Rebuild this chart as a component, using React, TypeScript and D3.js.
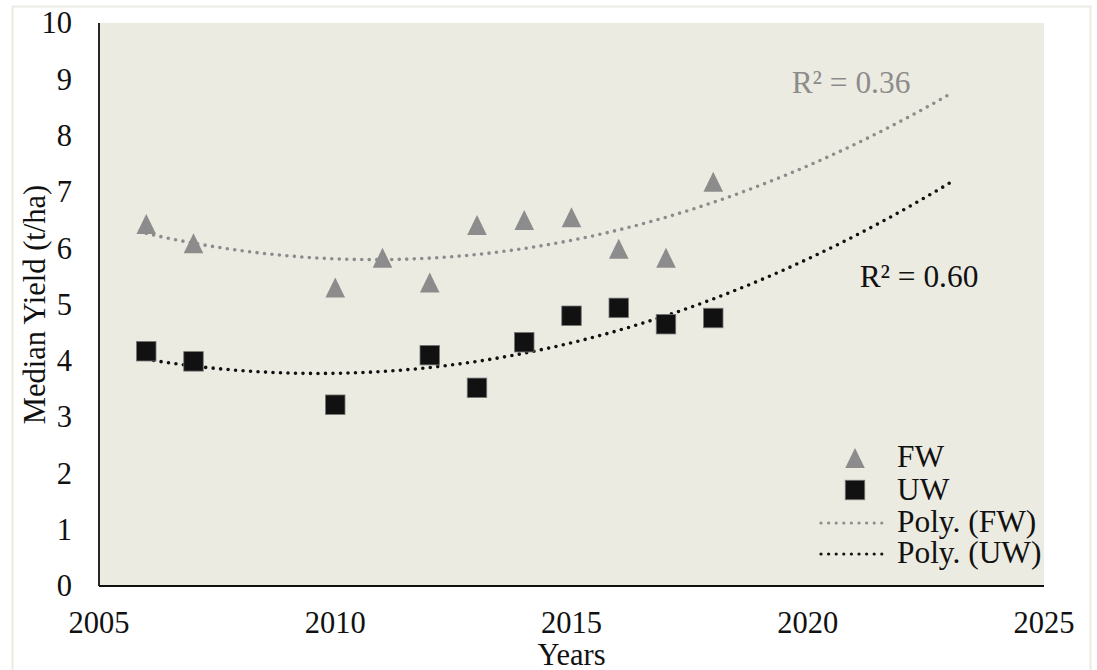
import React from "react";
import * as d3 from "d3";

// Median yield by year for the two water regimes
const fwYears = [2006, 2007, 2010, 2011, 2012, 2013, 2014, 2015, 2016, 2017, 2018];
const fwValues = [6.43, 6.09, 5.3, 5.83, 5.39, 6.41, 6.5, 6.55, 5.99, 5.83, 7.18];
const uwYears = [2006, 2007, 2010, 2012, 2013, 2014, 2015, 2016, 2017, 2018];
const uwValues = [4.17, 3.99, 3.22, 4.1, 3.52, 4.33, 4.8, 4.94, 4.65, 4.76];

const xTicks = [2005, 2010, 2015, 2020, 2025];
const yTicks = [0, 1, 2, 3, 4, 5, 6, 7, 8, 9, 10];
const trendStart = 2006;
const trendEnd = 2023;
const fwR2Label = "R² = 0.36";
const uwR2Label = "R² = 0.60";
const legendLabels = ["FW", "UW", "Poly. (FW)", "Poly. (UW)"];

const W = 1097;
const H = 670;
const plot = { left: 99, right: 1044, top: 23, bottom: 586 };
const FONT = "'Liberation Serif', 'Times New Roman', serif";
const FW_COLOR = "#8c8c8c";
const UW_COLOR = "#111111";
const TICK_FS = 30.5;
const LABEL_FS = 31.4;

// Least-squares second-order polynomial fit
function quadFit(xs: number[], ys: number[]) {
  const x0 = d3.mean(xs) as number;
  const u = xs.map((x) => x - x0);
  const n = u.length;
  let s1 = 0, s2 = 0, s3 = 0, s4 = 0, t0 = 0, t1 = 0, t2 = 0;
  u.forEach((v, i) => {
    const y = ys[i];
    s1 += v; s2 += v * v; s3 += v * v * v; s4 += v * v * v * v;
    t0 += y; t1 += v * y; t2 += v * v * y;
  });
  const M = [
    [n, s1, s2, t0],
    [s1, s2, s3, t1],
    [s2, s3, s4, t2],
  ];
  for (let c = 0; c < 3; c++) {
    for (let r = c + 1; r < 3; r++) {
      const f = M[r][c] / M[c][c];
      for (let k = c; k < 4; k++) M[r][k] -= f * M[c][k];
    }
  }
  const coef = [0, 0, 0];
  for (let r = 2; r >= 0; r--) {
    let s = M[r][3];
    for (let k = r + 1; k < 3; k++) s -= M[r][k] * coef[k];
    coef[r] = s / M[r][r];
  }
  return (x: number) => {
    const v = x - x0;
    return coef[0] + coef[1] * v + coef[2] * v * v;
  };
}

// Isosceles triangle marker, as wide as it is tall, centred on its box
const boxTriangle = {
  draw(ctx: any, size: number) {
    const h = Math.sqrt(size);
    ctx.moveTo(0, -h / 2);
    ctx.lineTo(h * 0.49, h / 2);
    ctx.lineTo(-h * 0.49, h / 2);
    ctx.closePath();
  },
};

export default function App() {
  const x = d3.scaleLinear().domain([2005, 2025]).range([plot.left, plot.right]);
  const y = d3.scaleLinear().domain([0, 10]).range([plot.bottom, plot.top]);

  const fwFit = quadFit(fwYears, fwValues);
  const uwFit = quadFit(uwYears, uwValues);
  const samples = d3.range(trendStart, trendEnd + 0.001, 0.1);
  const line = d3.line<number>().x((d) => x(d));
  const fwPath = line.y((d) => y(fwFit(d)))(samples) as string;
  const uwPath = line.y((d) => y(uwFit(d)))(samples) as string;

  const tri = d3.symbol().type(boxTriangle as any).size(400)() as string;
  const sq = 19.5;

  const legX = 855;
  const legTextX = 897;
  const legMarks = [458, 490, 523, 554];
  const legBase = [467, 500, 532, 563];

  return (
    <svg
      width={W}
      height={H}
      style={{ position: "absolute", left: 0, top: 0, background: "#fff" }}
      fontFamily={FONT}
    >
      <rect x={12.5} y={6.5} width={1078} height={700} fill="#fff" stroke="#ecebe2" strokeWidth={2} />
      <rect
        x={plot.left}
        y={plot.top}
        width={plot.right - plot.left}
        height={plot.bottom - plot.top}
        fill="#ecebe1"
      />

      {/* fitted trends */}
      <path d={fwPath} fill="none" stroke={FW_COLOR} strokeWidth={3.6} strokeLinecap="round" strokeDasharray="0 7.5" />
      <path d={uwPath} fill="none" stroke={UW_COLOR} strokeWidth={3.6} strokeLinecap="round" strokeDasharray="0 7.5" />

      {/* axes */}
      <line x1={plot.left} x2={plot.left} y1={plot.top} y2={plot.bottom} stroke="#111" strokeWidth={1.8} />
      <line x1={plot.left} x2={plot.right} y1={plot.bottom} y2={plot.bottom} stroke="#111" strokeWidth={1.8} />

      {yTicks.map((t) => (
        <text key={t} x={72} y={y(t)} dy="0.34em" textAnchor="end" fontSize={TICK_FS} fill="#111">
          {t}
        </text>
      ))}
      {xTicks.map((t) => (
        <text key={t} x={x(t)} y={633} textAnchor="middle" fontSize={TICK_FS} fill="#111">
          {t}
        </text>
      ))}
      <text x={(plot.left + plot.right) / 2} y={665} textAnchor="middle" fontSize={TICK_FS} fill="#111">
        Years
      </text>
      <text
        transform={`translate(45,${(plot.top + plot.bottom) / 2}) rotate(-90)`}
        textAnchor="middle"
        fontSize={TICK_FS}
        fill="#111"
      >
        Median Yield (t/ha)
      </text>

      {/* markers */}
      {fwYears.map((yr, i) => (
        <path key={"fw" + yr} d={tri} transform={`translate(${x(yr)},${y(fwValues[i])})`} fill={FW_COLOR} />
      ))}
      {uwYears.map((yr, i) => (
        <rect
          key={"uw" + yr}
          x={x(yr) - sq / 2}
          y={y(uwValues[i]) - sq / 2}
          width={sq}
          height={sq}
          fill={UW_COLOR}
          stroke="#777"
          strokeWidth={0.8}
        />
      ))}

      <text x={851} y={93} textAnchor="middle" fontSize={LABEL_FS} fill={FW_COLOR}>
        {fwR2Label}
      </text>
      <text x={919} y={287} textAnchor="middle" fontSize={LABEL_FS} fill="#111">
        {uwR2Label}
      </text>

      {/* legend */}
      <path d={tri} transform={`translate(${legX},${legMarks[0]})`} fill={FW_COLOR} />
      <rect x={legX - sq / 2} y={legMarks[1] - sq / 2} width={sq} height={sq} fill={UW_COLOR} stroke="#777" strokeWidth={0.8} />
      <line x1={821} x2={885} y1={legMarks[2]} y2={legMarks[2]} stroke={FW_COLOR} strokeWidth={3.2} strokeLinecap="round" strokeDasharray="0 7.6" />
      <line x1={821} x2={885} y1={legMarks[3]} y2={legMarks[3]} stroke={UW_COLOR} strokeWidth={3.2} strokeLinecap="round" strokeDasharray="0 7.6" />
      {legendLabels.map((l, i) => (
        <text key={l} x={legTextX} y={legBase[i]} fontSize={LABEL_FS} fill="#111">
          {l}
        </text>
      ))}
    </svg>
  );
}
